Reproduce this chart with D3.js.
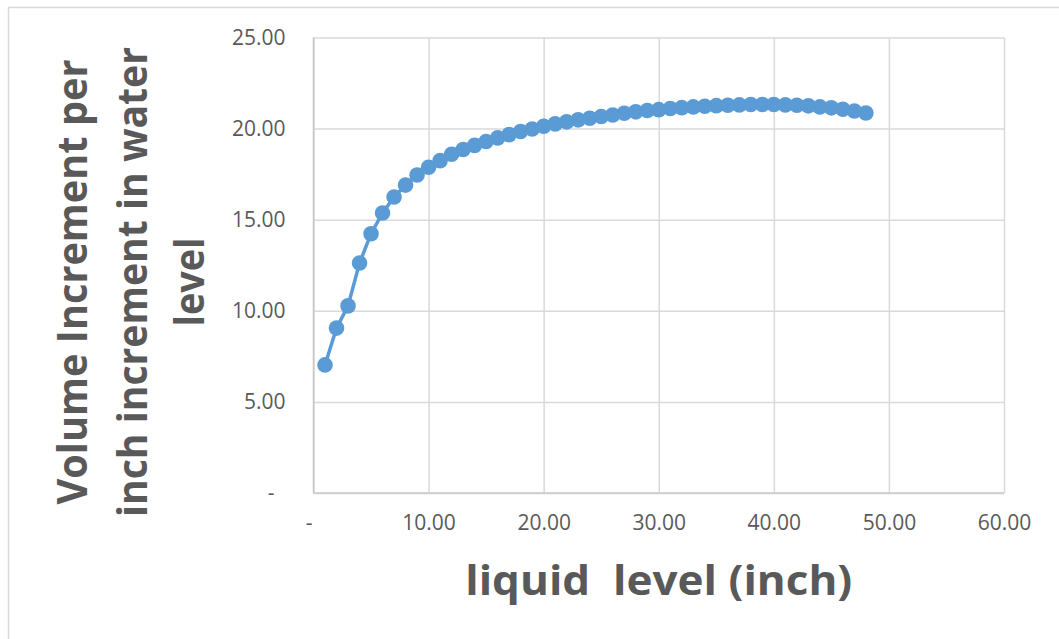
<!DOCTYPE html>
<html>
<head>
<meta charset="utf-8">
<script src="https://cdn.jsdelivr.net/npm/d3@7"></script>
<style>
  body { margin: 0; background: #fff; }
  svg { display: block; }
  .tick-label { font-family: "Open Sans", sans-serif; font-size: 21px; fill: #595959; }
  .title { font-family: "Open Sans", sans-serif; font-weight: 700; font-size: 42px; fill: #595959; white-space: pre; }
</style>
</head>
<body>
<div id="chart"></div>
<script>
// liquid level (inch)
const levels = [1, 2, 3, 4, 5, 6, 7, 8, 9, 10, 11, 12, 13, 14, 15, 16, 17, 18, 19, 20,
  21, 22, 23, 24, 25, 26, 27, 28, 29, 30, 31, 32, 33, 34, 35, 36, 37, 38, 39, 40,
  41, 42, 43, 44, 45, 46, 47, 48];

// volume increment per inch increment in water level
const increments = [7.03, 9.05, 10.27, 12.62, 14.23, 15.37, 16.25, 16.90, 17.45, 17.88,
  18.24, 18.59, 18.85, 19.08, 19.29, 19.49, 19.67, 19.84, 19.98, 20.13,
  20.26, 20.37, 20.48, 20.57, 20.66, 20.75, 20.84, 20.92, 20.99, 21.04,
  21.10, 21.15, 21.19, 21.23, 21.26, 21.28, 21.30, 21.32, 21.32, 21.32,
  21.30, 21.28, 21.25, 21.19, 21.14, 21.06, 20.97, 20.86];

const xTicks = [0, 10, 20, 30, 40, 50, 60];
const yTicks = [0, 5, 10, 15, 20, 25];

const xTitle = 'liquid  level (inch)';
const yTitleLines = ['Volume Increment per', 'inch increment in water', 'level'];

const config = {
  width: 1059,
  height: 639,
  margin: {top: 37.5, right: 55, bottom: 146, left: 313.5}
};

const width = config.width - config.margin.left - config.margin.right;
const height = config.height - config.margin.top - config.margin.bottom;

const data = levels.map((d, i) => ({x: d, y: increments[i]}));

const svg = d3.select('#chart').append('svg')
    .attr('width', config.width)
    .attr('height', config.height);

// outer chart frame
svg.append('rect')
    .attr('x', 8.5)
    .attr('y', 7.5)
    .attr('width', 1200)
    .attr('height', 800)
    .attr('fill', 'none')
    .attr('stroke', '#d9d9d9')
    .attr('stroke-width', 1.5);

const chart = svg.append('g')
    .attr('transform', `translate(${config.margin.left},${config.margin.top})`);

const xScale = d3.scaleLinear().domain([0, 60]).range([0, width]);
const yScale = d3.scaleLinear().domain([0, 25]).range([height, 0]);

const fmt = d => d === 0 ? '-' : d3.format('.2f')(d);

// gridlines
const xGrid = chart.append('g')
    .attr('transform', `translate(0,${height})`)
    .call(d3.axisBottom(xScale).tickValues(xTicks).tickSize(-height).tickFormat(''));
const yGrid = chart.append('g')
    .call(d3.axisLeft(yScale).tickValues(yTicks).tickSize(-width).tickFormat(''));
[xGrid, yGrid].forEach(g => {
  g.select('.domain').remove();
  g.selectAll('.tick line').attr('stroke', '#d9d9d9').attr('stroke-width', 1.5);
});

// axis lines
chart.append('line')
    .attr('x1', 0).attr('x2', 0).attr('y1', 0).attr('y2', height)
    .attr('stroke', '#c8c8c8').attr('stroke-width', 1.5);
chart.append('line')
    .attr('x1', 0).attr('x2', width).attr('y1', height).attr('y2', height)
    .attr('stroke', '#c8c8c8').attr('stroke-width', 1.5);

// tick labels
const xAxisG = chart.append('g')
    .attr('transform', `translate(0,${height})`)
    .call(d3.axisBottom(xScale).tickValues(xTicks).tickSize(0).tickPadding(22).tickFormat(fmt));
const yAxisG = chart.append('g')
    .call(d3.axisLeft(yScale).tickValues(yTicks).tickSize(0).tickPadding(28).tickFormat(fmt));
[xAxisG, yAxisG].forEach(g => {
  g.select('.domain').remove();
  g.selectAll('.tick text').attr('class', 'tick-label').attr('font-size', null).attr('font-family', null).attr('fill', null);
});
xAxisG.selectAll('.tick').filter(d => d === 0).select('text').attr('dx', -5);
yAxisG.selectAll('.tick').filter(d => d === 0).select('text').attr('dx', -11);

// series
const line = d3.line()
    .x(d => xScale(d.x))
    .y(d => yScale(d.y));

chart.append('path')
    .datum(data)
    .attr('d', line)
    .attr('fill', 'none')
    .attr('stroke', '#5b9bd5')
    .attr('stroke-width', 3.5)
    .attr('stroke-linejoin', 'round');

chart.selectAll('.marker')
    .data(data)
    .join('circle')
    .attr('class', 'marker')
    .attr('cx', d => xScale(d.x))
    .attr('cy', d => yScale(d.y))
    .attr('r', 7.8)
    .attr('fill', '#5b9bd5');

// axis titles
svg.append('text')
    .attr('class', 'title')
    .attr('x', config.margin.left + width / 2)
    .attr('y', 595)
    .attr('text-anchor', 'middle')
    .attr('textLength', 387)
    .attr('lengthAdjust', 'spacingAndGlyphs')
    .text(xTitle);

const yTitleBaselines = [87, 147, 204];
const yTitleLengths = [445, 470, 89];
svg.selectAll('.y-title')
    .data(yTitleLines)
    .join('text')
    .attr('class', 'title y-title')
    .attr('transform', (d, i) => `translate(${yTitleBaselines[i]},282) rotate(-90)`)
    .attr('text-anchor', 'middle')
    .attr('textLength', (d, i) => yTitleLengths[i])
    .attr('lengthAdjust', 'spacingAndGlyphs')
    .text(d => d);
</script>
</body>
</html>
